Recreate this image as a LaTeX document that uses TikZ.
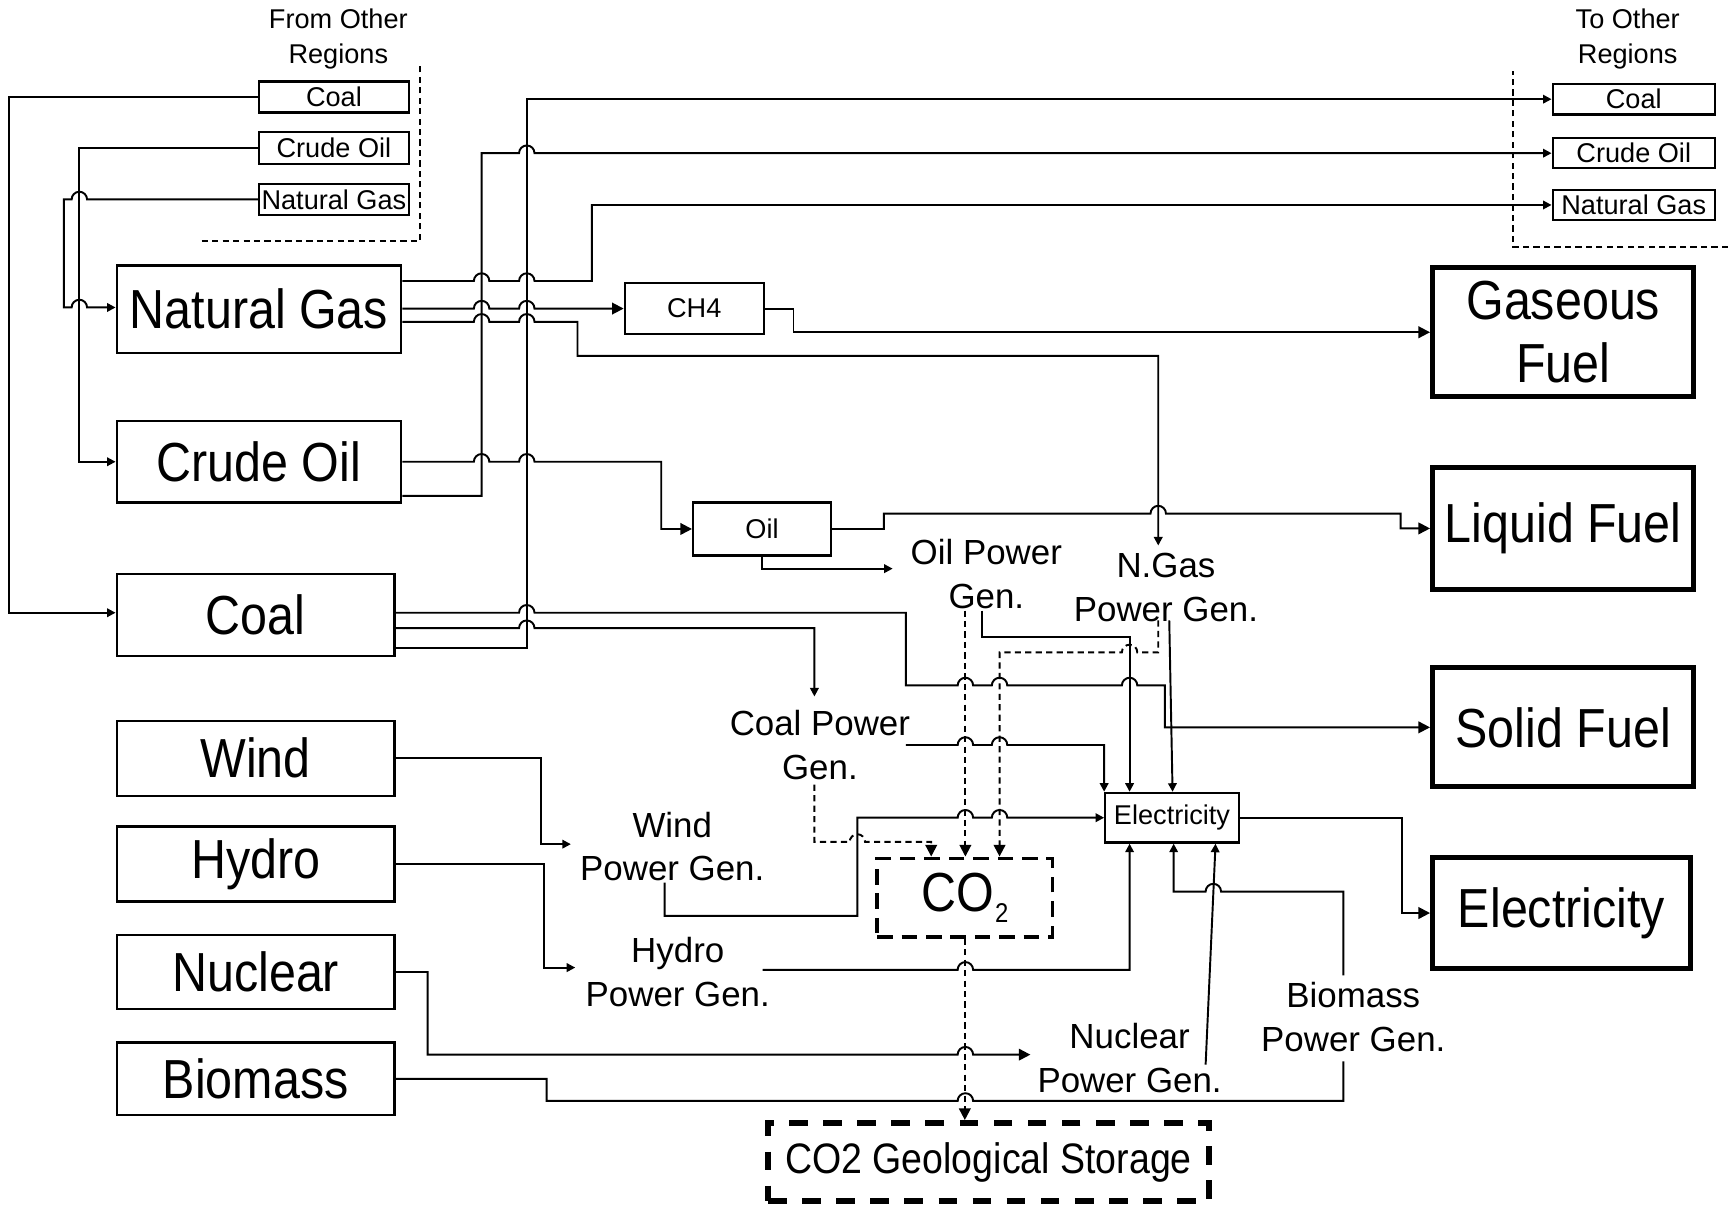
\documentclass[tikz,border=0pt]{standalone}
\usepackage{fontspec}
\setmainfont{Liberation Sans}
\newfontfamily\narrowfont[FakeStretch=0.88]{Liberation Sans}
\usetikzlibrary{arrows.meta}
\newcommand{\hopr}[2]{-- ({#1-7},#2) arc[start angle=180,end angle=0,x radius=0.07cm,y radius=0.07cm]}
\newcommand{\hopl}[2]{-- ({#1+7},#2) arc[start angle=0,end angle=180,x radius=0.07cm,y radius=0.07cm]}
\begin{document}
\begin{tikzpicture}[x=0.01cm,y=-0.01cm,line width=0.5pt,
  thinbox/.style={draw,line width=0.6pt,inner sep=0pt},
  thickbox/.style={draw,line width=1.3pt,inner sep=0pt,align=center},
  bigtext/.style={font=\narrowfont\fontsize{14.2}{16.2}\selectfont},
  smalltext/.style={font=\fontsize{7}{9}\selectfont},
  gentext/.style={font=\fontsize{9}{11.2}\selectfont,align=center,inner sep=0pt},
  arr/.style={-{Triangle[length=2.2pt,width=2.2pt]}},
  barr/.style={-{Triangle[length=3pt,width=3pt]}},
  dsh/.style={dash pattern=on 1.6pt off 1.1pt},
  co2box/.style={draw,line width=1pt,dash pattern=on 4pt off 2.3pt,inner sep=0pt},
  storebox/.style={draw,line width=1.5pt,dash pattern=on 4.8pt off 4pt,inner sep=0pt}]
\useasboundingbox (0,0) rectangle (1568,1094);
\node[smalltext,align=center] (fromtitle) at (307,35) {From Other\\Regions};
\node[thinbox,smalltext,minimum width=1.36cm,minimum height=0.28cm] (fcoal) at (303,88) {Coal};
\node[thinbox,smalltext,minimum width=1.36cm,minimum height=0.29cm] (fcrude) at (303,134.5) {Crude Oil};
\node[thinbox,smalltext,minimum width=1.36cm,minimum height=0.28cm] (fngas) at (303,181) {Natural Gas};
\node[smalltext,align=center] (totitle) at (1477,35) {To Other\\Regions};
\node[thinbox,smalltext,minimum width=1.47cm,minimum height=0.28cm] (tcoal) at (1482.5,90) {Coal};
\node[thinbox,smalltext,minimum width=1.47cm,minimum height=0.27cm] (tcrude) at (1482.5,139) {Crude Oil};
\node[thinbox,smalltext,minimum width=1.47cm,minimum height=0.27cm] (tngas) at (1482.5,186) {Natural Gas};
\node[thinbox,bigtext,minimum width=2.58cm,minimum height=0.79cm] (natgas) at (235,280.5) {Natural Gas};
\node[thinbox,bigtext,minimum width=2.58cm,minimum height=0.74cm] (crudeoil) at (235,419) {Crude Oil};
\node[thinbox,bigtext,minimum width=2.52cm,minimum height=0.74cm] (coal) at (232,558) {Coal};
\node[thinbox,bigtext,minimum width=2.52cm,minimum height=0.68cm] (wind) at (232,688) {Wind};
\node[thinbox,bigtext,minimum width=2.52cm,minimum height=0.68cm] (hydro) at (232,784) {Hydro};
\node[thinbox,bigtext,minimum width=2.52cm,minimum height=0.67cm] (nuclear) at (232,882) {Nuclear};
\node[thinbox,bigtext,minimum width=2.52cm,minimum height=0.66cm] (biomass) at (232,979) {Biomass};
\node[thickbox,bigtext,minimum width=2.37cm,minimum height=1.17cm] (gaseous) at (1418.5,301.5) {Gaseous\\Fuel};
\node[thickbox,bigtext,minimum width=2.37cm,minimum height=1.11cm] (liquid) at (1418.5,479.5) {Liquid Fuel};
\node[thickbox,bigtext,minimum width=2.37cm,minimum height=1.08cm] (solid) at (1418.5,660) {Solid Fuel};
\node[thickbox,bigtext,minimum width=2.34cm,minimum height=1.01cm] (electricity) at (1417,828.5) {Electricity};
\node[thinbox,smalltext,minimum width=1.26cm,minimum height=0.46cm] (ch4) at (630,280) {CH4};
\node[thinbox,smalltext,minimum width=1.25cm,minimum height=0.48cm] (oil) at (691.5,480) {Oil};
\node[thinbox,smalltext,minimum width=1.21cm,minimum height=0.45cm] (elecbox) at (1063.5,742) {\raisebox{-0.3ex}{Electricity}};
\node[co2box,minimum width=1.59cm,minimum height=0.71cm] (co2) at (875.5,814.5) {\narrowfont\fontsize{14.2}{16}\selectfont CO\kern0.02em\raisebox{-0.4ex}{\fontsize{7}{8}\selectfont 2}};
\node[storebox,minimum width=4cm,minimum height=0.71cm] (storage) at (897,1054.5) {\narrowfont\fontsize{11}{13}\selectfont CO2 Geological Storage};
\node[gentext] (oilpg) at (895,521) {Oil Power\\Gen.};
\node[gentext] (gaspg) at (1058,533) {N.Gas\\Power Gen.};
\node[gentext] (coalpg) at (744,676) {Coal Power\\Gen.};
\node[gentext] (windpg) at (610,768) {Wind\\Power Gen.};
\node[gentext] (hydropg) at (615,882) {Hydro\\Power Gen.};
\node[gentext] (nuclearpg) at (1025,960) {Nuclear\\Power Gen.};
\node[gentext] (biomasspg) at (1228,923) {Biomass\\Power Gen.};
\coordinate (ngin) at (1051,495);
\coordinate (oilin) at (810,516);
\coordinate (coalin) at (739,632);
\coordinate (windin) at (518,766);
\coordinate (hydroin) at (522,878);
\coordinate (nuclearin) at (935,957);
\coordinate (biomassin) at (1219,963);
\coordinate (oilout) at (891,554);
\coordinate (oilco2) at (876,554);
\coordinate (gasout) at (1061,563);
\coordinate (gasco2) at (1051,563);
\coordinate (coalout) at (822,676);
\coordinate (coalco2) at (739,712);
\coordinate (windout) at (603,801);
\coordinate (hydroout) at (692,880);
\coordinate (nuclearout) at (1094,966);
\coordinate (biomassout) at (1219,885);
\draw[dsh] (183,219) -- (381,219) -- (381,60);
\draw[dsh] (1568,224) -- (1373,224) -- (1373,64);
\draw[arr] (fcoal.west) -| (8,556) -- (coal.west |- 0,556);
\draw[arr] (fcrude.west) -| (72,419) -- (crudeoil.west);
\draw[arr] (fngas.west) \hopl{72}{181} -- (58,181) -- (58,279) \hopr{72}{279} -- (natgas.west |- 0,279);
\draw[arr] (natgas.east |- 0,255) \hopr{437}{255} \hopr{478}{255} -- (537,255) |- (tngas.west);
\draw[barr] (natgas.east |- 0,280) \hopr{437}{280} \hopr{478}{280} -- (ch4.west);
\draw[arr] (natgas.east |- 0,292) \hopr{437}{292} \hopr{478}{292} -- (524,292) -- (524,323) -- (1051,323) -- (ngin);
\draw[barr] (crudeoil.east) \hopr{437}{419} \hopr{478}{419} -- (600,419) |- (oil.west);
\draw[arr] (crudeoil.east |- 0,450) -- (437,450) -- (437,139) \hopr{478}{139} -- (tcrude.west);
\draw[arr] (coal.east |- 0,588) -- (478,588) |- (tcoal.west);
\draw[barr] (coal.east |- 0,556) \hopr{478}{556} -- (822,556) -- (822,622) \hopr{876}{622} \hopr{907}{622} \hopr{1025}{622} -- (1057,622) |- (solid.west);
\draw[arr] (coal.east |- 0,570) \hopr{478}{570} -- (739,570) -- (coalin);
\draw[barr] (ch4.east) -- (720,280) |- (gaseous.west);
\draw[barr] (oil.east) -- (802,480) -- (802,466) \hopr{1051}{466} -- (1271,466) |- (liquid.west);
\draw[arr] (oil.south) |- (oilin);
\draw[arr] (wind.east) -| (491,766) -- (windin);
\draw[arr] (hydro.east) -| (494,878) -- (hydroin);
\draw[barr] (nuclear.east) -| (388,957) \hopr{876}{957} -- (nuclearin);
\draw (biomass.east) -| (496,999) \hopr{876}{999} -- (1219,999) -- (biomassin);
\draw[arr] (oilout) -- (891,578) -- (1025,578) -- (elecbox.north -| 1025,0);
\draw[dsh,barr] (oilco2) -- (co2.north -| 876,0);
\draw[arr] (gasout) -- (elecbox.north -| 1064,0);
\draw[dsh,barr] (gasco2) -- (1051,592) \hopl{1025}{592} -- (907,592) -- (co2.north -| 907,0);
\draw[arr] (coalout) \hopr{876}{676} \hopr{907}{676} -- (elecbox.north west |- 0,676) -- (elecbox.north west);
\draw[dsh,barr] (coalco2) -- (739,764) \hopr{778}{764} -- (845,764) -- (co2.north -| 845,0);
\draw[arr] (windout) -- (603,831) -- (778,831) -- (778,742) \hopr{876}{742} \hopr{907}{742} -- (elecbox.west);
\draw[arr] (hydroout) \hopr{876}{880} -- (1025,880) -- (elecbox.south -| 1025,0);
\draw[arr] (nuclearout) -- (elecbox.south -| 1103,0);
\draw[arr] (biomassout) -- (1219,809) \hopl{1101}{809} -- (1065,809) -- (elecbox.south -| 1065,0);
\draw[barr] (elecbox.east) -- (1272,742) |- (electricity.west);
\draw[dsh,barr] (co2.south) -- (storage.north -| 875.5,0);
\end{tikzpicture}
\end{document}
